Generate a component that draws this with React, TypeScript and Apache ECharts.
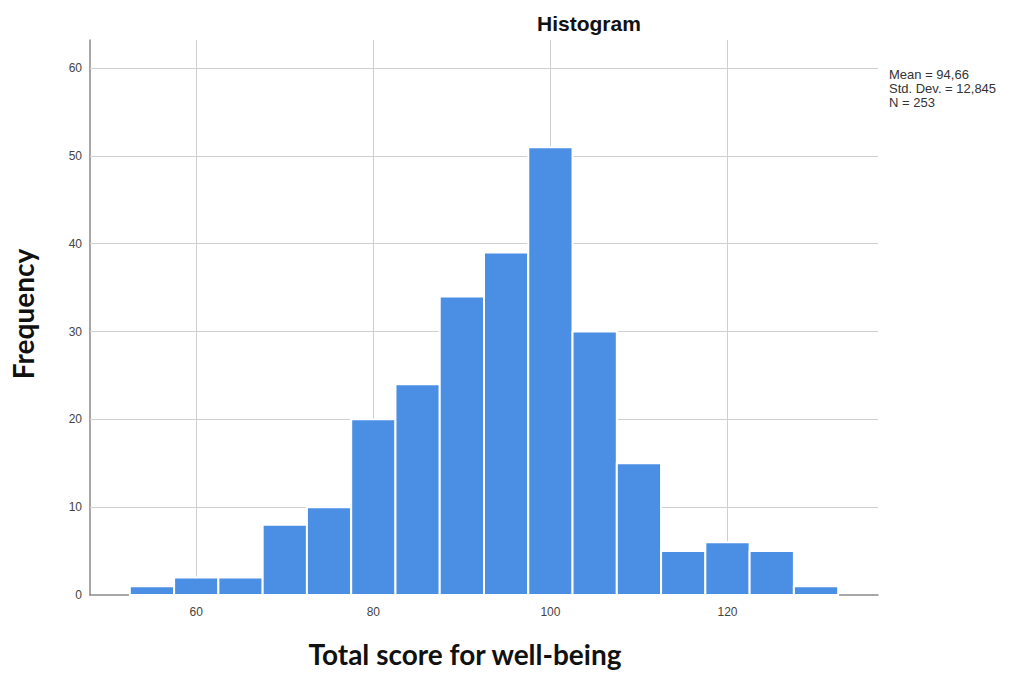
import React, { useEffect, useRef } from "react";
import * as echarts from "echarts";

const binCenters = [55, 60, 65, 70, 75, 80, 85, 90, 95, 100, 105, 110, 115, 120, 125, 130];
const frequencies = [1, 2, 2, 8, 10, 20, 24, 34, 39, 51, 30, 15, 5, 6, 5, 1];
const binWidth = 5;
const xTicks = [60, 80, 100, 120];
const yTicks = [0, 10, 20, 30, 40, 50, 60];
const statsLines = ["Mean = 94,66", "Std. Dev. = 12,845", "N = 253"];
const titleText = "Histogram";
const xTitle = "Total score for well-being";
const yTitle = "Frequency";

export default function App() {
  const ref = useRef<HTMLDivElement>(null);
  useEffect(() => {
    const chart = echarts.init(ref.current!, null, { renderer: "svg" });
    const data = binCenters.map((c, i) => [c, frequencies[i]]);
    chart.setOption({
      animation: false,
      backgroundColor: "#ffffff",
      title: {
        text: titleText,
        left: 532,
        top: 8,
        textStyle: { fontFamily: "Liberation Sans, Arial", fontWeight: "bold", fontSize: 21, color: "#111" },
      },
      graphic: [
        {
          type: "text",
          left: 889,
          top: 67,
          style: {
            text: statsLines.join("\n"),
            font: "13px 'Liberation Sans', Arial",
            fill: "#333",
            lineHeight: 14,
          },
        },
        {
          type: "text",
          x: 465,
          y: 654,
          style: {
            text: xTitle,
            font: "bold 28px Lato",
            fill: "#111",
            align: "center",
            verticalAlign: "middle",
          },
        },
        {
          type: "text",
          x: 23,
          y: 314,
          rotation: Math.PI / 2,
          style: {
            text: yTitle,
            font: "bold 28px Lato",
            fill: "#111",
            align: "center",
            verticalAlign: "middle",
          },
        },
      ],
      grid: { left: 90, right: 136, top: 40, bottom: 80 },
      xAxis: {
        type: "value",
        min: 48,
        max: 137,
        axisLine: { show: true, lineStyle: { color: "#8a8a8a", width: 1.5 } },
        axisTick: { show: false },
        splitLine: { show: false },
        axisLabel: {
          customValues: xTicks,
          color: "#444",
          fontSize: 12,
          fontFamily: "Liberation Sans, Arial",
          margin: 11,
        },
      },
      yAxis: {
        type: "value",
        min: 0,
        max: 63.2,
        axisLine: { show: true, lineStyle: { color: "#8a8a8a", width: 1.5 } },
        axisTick: { show: false },
        splitLine: { show: false },
        axisLabel: {
          customValues: yTicks,
          color: "#444",
          fontSize: 12,
          fontFamily: "Liberation Sans, Arial",
          margin: 8,
        },
      },
      series: [
        {
          type: "scatter",
          data: [],
          z: 1,
          markLine: {
            silent: true,
            symbol: "none",
            z: 1,
            label: { show: false },
            lineStyle: { color: "#cfcfcf", width: 1, type: "solid" },
            data: [
              ...xTicks.map((v) => ({ xAxis: v })),
              ...yTicks.filter((v) => v > 0).map((v) => ({ yAxis: v })),
            ],
          },
        },
        {
          type: "custom",
          z: 5,
          data,
          renderItem: (params: any, api: any) => {
            const c = api.value(0);
            const f = api.value(1);
            const p0 = api.coord([c - binWidth / 2, f]);
            const p1 = api.coord([c + binWidth / 2, 0]);
            return {
              type: "rect",
              shape: { x: p0[0], y: p0[1], width: p1[0] - p0[0], height: p1[1] - p0[1] },
              style: { fill: "#4a8fe3", stroke: "#ffffff", lineWidth: 2 },
            };
          },
        },
      ],
    });
    return () => chart.dispose();
  }, []);
  return <div ref={ref} style={{ width: 1014, height: 675, position: "absolute", left: 0, top: 0 }} />;
}
